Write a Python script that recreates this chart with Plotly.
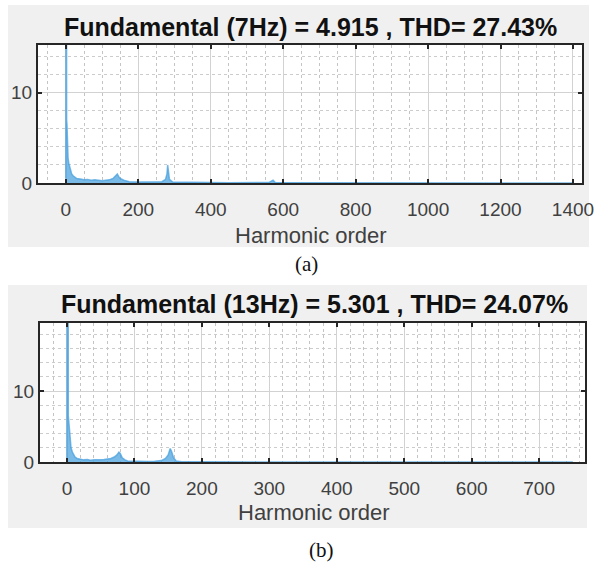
import plotly.graph_objects as go

# ---------------- data ----------------
title_a = "Fundamental (7Hz) = 4.915 , THD= 27.43%"
title_b = "Fundamental (13Hz) = 5.301 , THD= 24.07%"
xlabel = "Harmonic order"
caption_a = "(a)"
caption_b = "(b)"

# harmonic spectrum (a): order, magnitude (% of fundamental)
orders_a = [0, 1, 2, 3, 4, 5, 6, 8, 10, 13, 16, 20, 25, 30, 40, 50, 60, 70, 80, 90,
            100, 110, 120, 130, 137, 142, 146, 150, 160, 175, 200, 240, 265, 275,
            279, 281, 283, 286, 295, 350, 450, 560, 568, 572, 578, 700, 1400]
mag_a = [0.5, 100, 7.0, 6.5, 4.0, 3.5, 2.8, 2.2, 1.8, 1.3, 1.0, 0.8, 0.6, 0.5, 0.45, 0.35, 0.4, 0.3, 0.35, 0.3,
         0.25, 0.3, 0.35, 0.5, 0.8, 1.0, 0.7, 0.5, 0.3, 0.15, 0.1, 0.08, 0.15, 0.4,
         1.0, 2.0, 1.2, 0.4, 0.1, 0.05, 0.03, 0.05, 0.25, 0.3, 0.05, 0.02, 0.0]

# harmonic spectrum (b)
orders_b = [0, 1, 2, 3, 4, 5, 6, 8, 10, 12, 15, 20, 25, 30, 35, 40, 45, 50, 55, 60,
            65, 70, 74, 77, 79, 82, 86, 90, 100, 110, 120, 130, 140, 146, 150, 153,
            155, 158, 162, 170, 200, 750]
mag_b = [0.5, 100, 6.5, 5.5, 3.5, 2.5, 2.0, 1.4, 1.0, 0.7, 0.5, 0.4, 0.3, 0.35, 0.25, 0.3, 0.25, 0.3, 0.35, 0.4,
         0.5, 0.7, 1.0, 1.4, 1.2, 0.6, 0.3, 0.15, 0.1, 0.05, 0.08, 0.1, 0.2, 0.5, 1.0, 1.9,
         1.5, 0.6, 0.15, 0.05, 0.02, 0.0]

xrange_a = [-77, 1425]
yrange_a = [0, 15.3]
xrange_b = [-40, 768]
yrange_b = [0, 19.6]

# ---------------- figure ----------------
W, H = 596, 565
def px(x):
    return x / W
def py(y):
    return 1 - y / H

bar_color = "rgba(70,160,222,0.72)"
axis_color = "#262626"
tick_color = "#404040"
font_family = "Liberation Sans, Arial, sans-serif"

fig = go.Figure()
fig.add_trace(go.Scatter(x=orders_a, y=mag_a, mode="lines", fill="tozeroy",
                         line=dict(color=bar_color, width=1.5), fillcolor=bar_color,
                         xaxis="x", yaxis="y", showlegend=False, hoverinfo="skip"))
fig.add_trace(go.Scatter(x=orders_b, y=mag_b, mode="lines", fill="tozeroy",
                         line=dict(color=bar_color, width=1.5), fillcolor=bar_color,
                         xaxis="x2", yaxis="y2", showlegend=False, hoverinfo="skip"))

def xaxis(domain, rng, dtick, minor_dtick, anchor):
    return dict(domain=domain, range=rng, anchor=anchor, dtick=dtick, tick0=0,
                showline=True, mirror="allticks", linecolor=axis_color, linewidth=2,
                ticks="inside", ticklen=4, tickwidth=1.5, tickcolor=axis_color,
                showgrid=True, gridcolor="#d2d2d2", gridwidth=1,
                zeroline=False, automargin=False,
                tickfont=dict(family=font_family, size=19, color=tick_color),
                ticklabelstandoff=8,
                minor=dict(dtick=minor_dtick, tick0=0, showgrid=True, gridcolor="#c4c4c4",
                           griddash="dot", gridwidth=1, ticks=""))

def yaxis(domain, rng, anchor):
    return dict(domain=domain, range=rng, anchor=anchor, tickvals=[0, 10],
                showline=True, mirror="allticks", linecolor=axis_color, linewidth=2,
                ticks="inside", ticklen=4, tickwidth=1.5, tickcolor=axis_color,
                showgrid=True, gridcolor="#d2d2d2", gridwidth=1,
                zeroline=False, automargin=False,
                tickfont=dict(family=font_family, size=19, color=tick_color),
                minor=dict(dtick=2, tick0=0, showgrid=True, gridcolor="#cccccc",
                           griddash="dot", gridwidth=1, ticks=""))

fig.update_layout(
    width=W, height=H,
    margin=dict(l=0, r=0, t=0, b=0),
    paper_bgcolor="white", plot_bgcolor="white",
    xaxis=xaxis([px(38), px(582)], xrange_a, 200, 50, "y"),
    yaxis=yaxis([py(183), py(45)], yrange_a, "x"),
    xaxis2=xaxis([px(40), px(585)], xrange_b, 100, 20, "y2"),
    yaxis2=yaxis([py(462), py(323)], yrange_b, "x2"),
    shapes=[
        dict(type="rect", xref="paper", yref="paper", x0=px(8), x1=px(589), y0=py(247), y1=py(5),
             fillcolor="#f0f0f0", line=dict(width=0), layer="below"),
        dict(type="rect", xref="paper", yref="paper", x0=px(8), x1=px(587), y0=py(528), y1=py(285),
             fillcolor="#f0f0f0", line=dict(width=0), layer="below"),
        dict(type="rect", xref="x domain", yref="y domain", x0=0, x1=1, y0=0, y1=1,
             fillcolor="white", line=dict(width=0), layer="below"),
        dict(type="rect", xref="x2 domain", yref="y2 domain", x0=0, x1=1, y0=0, y1=1,
             fillcolor="white", line=dict(width=0), layer="below"),
    ],
    annotations=[
        dict(text="<b>" + title_a + "</b>", x=px(310), y=py(27), xref="paper", yref="paper",
             showarrow=False, xanchor="center", yanchor="middle",
             font=dict(family=font_family, size=25, color="#111111")),
        dict(text="<b>" + title_b + "</b>", x=px(314), y=py(304), xref="paper", yref="paper",
             showarrow=False, xanchor="center", yanchor="middle",
             font=dict(family=font_family, size=25, color="#111111")),
        dict(text=xlabel, x=px(311), y=py(235), xref="paper", yref="paper",
             showarrow=False, xanchor="center", yanchor="middle",
             font=dict(family=font_family, size=22, color=tick_color)),
        dict(text=xlabel, x=px(314), y=py(512), xref="paper", yref="paper",
             showarrow=False, xanchor="center", yanchor="middle",
             font=dict(family=font_family, size=22, color=tick_color)),
        dict(text=caption_a, x=px(306), y=py(264), xref="paper", yref="paper",
             showarrow=False, xanchor="center", yanchor="middle",
             font=dict(family="Liberation Serif, Times New Roman, serif", size=21, color="#111111")),
        dict(text=caption_b, x=px(321), y=py(550), xref="paper", yref="paper",
             showarrow=False, xanchor="center", yanchor="middle",
             font=dict(family="Liberation Serif, Times New Roman, serif", size=21, color="#111111")),
    ],
)

fig.write_html("out.html")
